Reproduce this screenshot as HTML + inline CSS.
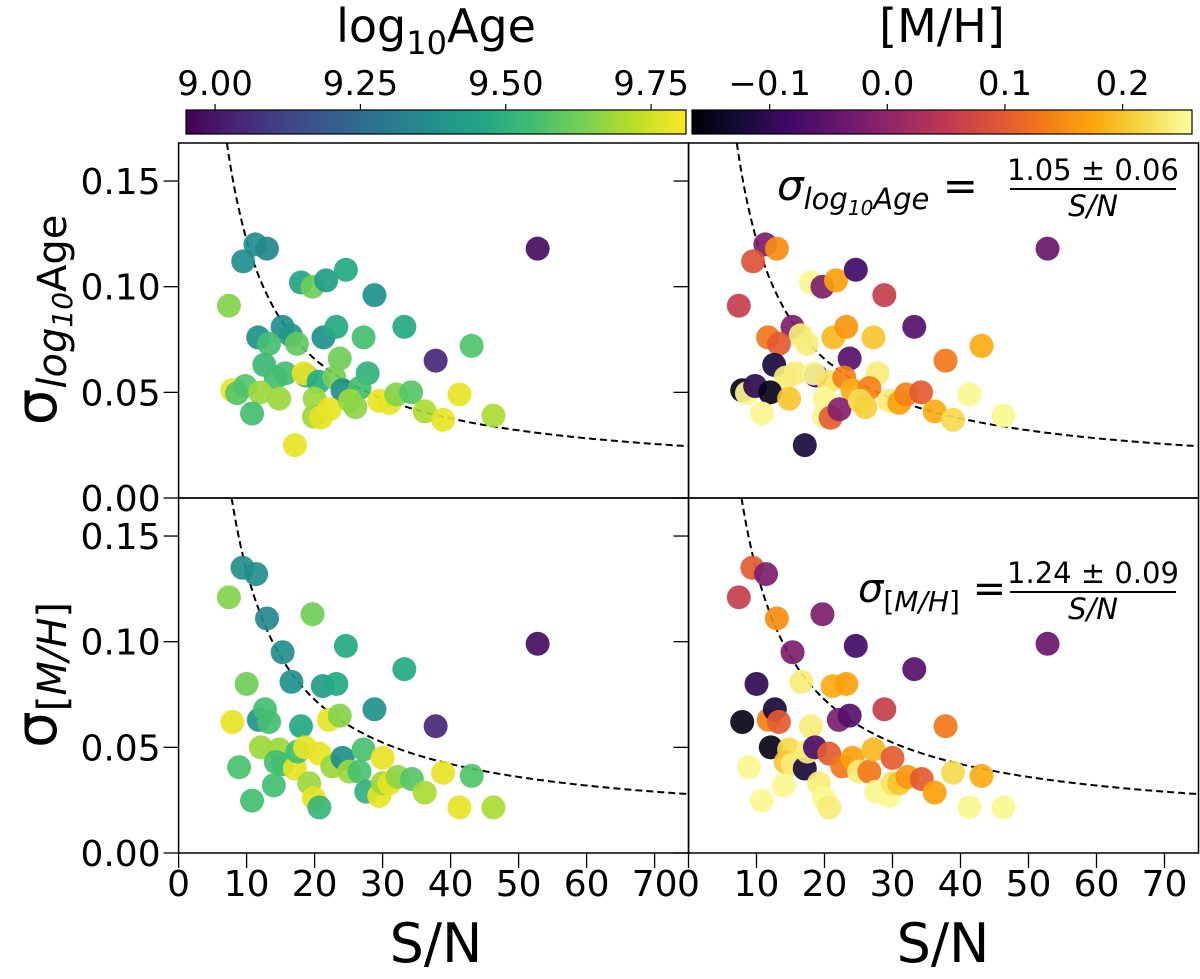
<!DOCTYPE html>
<html><head><meta charset="utf-8"><style>
body{margin:0;background:#fff;}
svg{display:block;font-family:"DejaVu Sans","Liberation Sans",sans-serif;}
</style></head><body>
<svg id="chart" width="1200" height="979" viewBox="0 0 1200 979">
<defs>
<linearGradient id="gViridis"></linearGradient>
<linearGradient id="gInferno"></linearGradient>
</defs>
<g id="layer"></g>
</svg>
<script>
// ---- data ----
const topSN  = [11.3,13.0,9.5,18.0,19.7,21.7,24.6,28.8,7.4,11.7,15.3,16.5,13.3,17.4,21.3,23.2,27.2,33.2,43.1,37.8,23.7,12.6,15.7,14.3,18.7,18.4,20.6,22.9,24.1,27.8,26.6,7.9,8.6,9.8,12.0,14.8,10.8,20.0,19.9,20.9,22.2,25.2,26.0,29.5,31.0,32.0,34.2,36.2,38.9,41.3,46.3,17.1,52.8];
const topSig = [0.120,0.118,0.112,0.102,0.100,0.103,0.108,0.096,0.091,0.076,0.081,0.077,0.073,0.073,0.076,0.081,0.076,0.081,0.072,0.065,0.066,0.063,0.059,0.057,0.058,0.059,0.055,0.057,0.051,0.059,0.052,0.051,0.0496,0.053,0.050,0.047,0.040,0.047,0.0385,0.038,0.042,0.046,0.043,0.046,0.045,0.049,0.050,0.041,0.037,0.049,0.039,0.025,0.118];
const topAge = [9.37,9.35,9.37,9.45,9.62,9.42,9.47,9.38,9.65,9.38,9.37,9.40,9.55,9.60,9.38,9.47,9.55,9.47,9.57,9.05,9.62,9.53,9.55,9.55,9.50,9.78,9.48,9.63,9.37,9.50,9.55,9.78,9.58,9.57,9.68,9.68,9.55,9.68,9.68,9.78,9.78,9.68,9.66,9.78,9.78,9.65,9.58,9.70,9.78,9.78,9.70,9.78,8.98];
const topMH  = [-0.02,0.15,0.09,0.25,-0.02,0.17,-0.08,0.06,0.06,0.13,-0.02,0.24,0.10,0.24,0.19,0.16,0.20,-0.06,0.18,0.13,-0.06,-0.12,0.24,0.24,-0.08,0.25,0.23,0.14,0.18,0.24,0.14,-0.15,0.25,-0.10,-0.15,0.20,0.25,0.25,0.25,0.10,-0.01,0.22,0.21,0.24,0.17,0.14,0.10,0.18,0.22,0.25,0.25,-0.12,-0.04];

const botSN  = [9.4,11.4,7.4,13.0,19.7,15.3,24.6,16.6,33.2,10.0,21.2,23.2,28.8,37.8,7.9,11.8,12.7,13.3,18.0,22.1,23.7,12.1,14.8,14.3,15.3,17.1,17.5,18.6,20.7,22.6,24.1,25.1,26.6,27.2,30.0,27.6,29.5,30.0,31.0,32.2,34.3,36.2,38.9,43.1,41.3,46.3,8.9,10.8,14.0,19.2,19.9,20.7,52.8];
const botSig = [0.135,0.132,0.121,0.111,0.113,0.095,0.098,0.081,0.087,0.080,0.079,0.080,0.068,0.060,0.062,0.063,0.068,0.062,0.060,0.063,0.065,0.050,0.049,0.043,0.042,0.040,0.048,0.050,0.047,0.041,0.045,0.0385,0.0385,0.049,0.045,0.029,0.027,0.033,0.033,0.036,0.035,0.0286,0.038,0.0365,0.0216,0.0216,0.0406,0.0248,0.032,0.033,0.026,0.0216,0.099];
const botAge = [9.37,9.37,9.65,9.35,9.62,9.37,9.47,9.38,9.47,9.62,9.42,9.47,9.38,9.05,9.78,9.38,9.55,9.55,9.47,9.78,9.65,9.68,9.68,9.55,9.55,9.78,9.55,9.78,9.78,9.68,9.37,9.68,9.56,9.56,9.78,9.50,9.78,9.68,9.78,9.66,9.58,9.70,9.78,9.57,9.78,9.70,9.56,9.55,9.55,9.68,9.78,9.52,8.98];
const botMH  = [0.10,-0.02,0.06,0.15,-0.02,-0.02,-0.08,0.24,-0.06,-0.10,0.18,0.17,0.06,0.13,-0.15,0.14,-0.12,0.10,0.24,-0.02,-0.06,-0.15,0.22,0.20,0.24,-0.12,0.24,-0.07,0.10,0.13,0.17,0.24,0.13,0.19,0.10,0.25,0.25,0.23,0.20,0.16,0.10,0.17,0.22,0.18,0.25,0.25,0.25,0.25,0.25,0.24,0.25,0.24,-0.04];

const xTicks = [0,10,20,30,40,50,60,70];
const yTicks = [0.00,0.05,0.10,0.15];
const yTickLabels = ["0.00","0.05","0.10","0.15"];
const ageTicks = [9.00,9.25,9.50,9.75];
const ageTickLabels = ["9.00","9.25","9.50","9.75"];
const mhTicks = [-0.1,0.0,0.1,0.2];
const mhTickLabels = ["\u22120.1","0.0","0.1","0.2"];
const fitTop = [1.126,0.0095];
const fitBot = [1.22,0.0116];

// ---- geometry ----
const NS="http://www.w3.org/2000/svg";
const L=document.getElementById('layer');
const PX=[178.6,688.5], PW=510, XMAX=75;
const PY=[143,498], PH=355, YMAX=0.168;
const AGE=[8.95,9.81], MH=[-0.166,0.259];
function xs(p,v){return PX[p]+v/XMAX*PW;}
function ys(r,v){return PY[r]+PH-v/YMAX*PH;}
function mk(tag,attrs,parent){const e=document.createElementNS(NS,tag);for(const k in attrs)e.setAttribute(k,attrs[k]);(parent||L).appendChild(e);return e;}

const VIR=["#440154","#482475","#414487","#355f8d","#2a788e","#21918c","#22a884","#44bf70","#7ad151","#bddf26","#fde725"];
const INF=["#000004","#160b39","#420a68","#6a176e","#932667","#bc3754","#dd513a","#f37819","#fca50a","#f6d746","#fcffa4"];
function hex(h){return [1,3,5].map(i=>parseInt(h.substr(i,2),16));}
function cmap(stops,t){t=Math.max(0,Math.min(1,t));const f=t*10,i=Math.min(9,Math.floor(f)),u=f-i;const a=hex(stops[i]),b=hex(stops[i+1]);return "rgb("+a.map((c,k)=>Math.round(c+(b[k]-c)*u)).join(",")+")";}
function fill(id,stops){const g=document.getElementById(id);stops.forEach((c,i)=>{mk('stop',{offset:(i*10)+'%','stop-color':c},g);});}
fill('gViridis',VIR);fill('gInferno',INF);

// ---- colorbars ----
function colorbar(x0,x1,grad,range,ticks,labels,title,tx,name){
  const g=mk('g',{});
  
  
  mk('rect',{x:x0,y:110,width:x1-x0,height:24,fill:'url(#'+grad+')',stroke:'#000','stroke-width':1.2},g);
  ticks.forEach((t,i)=>{const x=x0+(t-range[0])/(range[1]-range[0])*(x1-x0);
    mk('line',{x1:x,x2:x,y1:110,y2:104,stroke:'#000','stroke-width':1.2},g);
    const tl=mk('text',{x:x,y:95,'font-size':34,'text-anchor':'middle'},g);tl.textContent=labels[i];
    
    });
  const t=mk('text',{x:tx,y:42,'font-size':46,'text-anchor':'middle'},g);t.innerHTML=title;
  
  
}
colorbar(186,686,'gViridis',AGE,ageTicks,ageTickLabels,'log<tspan font-size="32" dy="12">10</tspan><tspan dy="-12">Age</tspan>',436,'age-colorbar');
colorbar(692,1192,'gInferno',MH,mhTicks,mhTickLabels,'[M/H]',942,'mh-colorbar');

// ---- panels ----
function panel(p,r,sn,sig,col,fit,name){
  const g=mk('g',{});
  
  
  let d="";const smin=fit[0]/(YMAX-fit[1]);
  for(let i=0;i<=200;i++){const s=smin+(XMAX-smin)*i/200;const v=fit[0]/s+fit[1];d+=(i?"L":"M")+xs(p,s).toFixed(1)+","+ys(r,v).toFixed(1);}
  const c=mk('path',{d:d,fill:'none',stroke:'#000','stroke-width':2,'stroke-dasharray':'7,4'},g);
  
  
  const clip=mk('g',{},g);
  sn.forEach((s,i)=>{const pt=mk('circle',{cx:xs(p,s),cy:ys(r,sig[i]),r:12,fill:col[i],opacity:0.92},clip);
    
    });
  mk('rect',{x:PX[p],y:PY[r],width:PW,height:PH,fill:'none',stroke:'#000','stroke-width':1.5},g);
  yTicks.forEach((t,i)=>{const y=ys(r,t);mk('line',{x1:PX[p],x2:PX[p]-15,y1:y,y2:y,stroke:'#000','stroke-width':1.3},g);
    if(p===0){const tl=mk('text',{x:PX[0]-18,y:y+13,'font-size':36,'text-anchor':'end'},g);tl.textContent=yTickLabels[i];
      
      }});
  if(r===1){xTicks.forEach(t=>{const x=xs(p,t);mk('line',{x1:x,x2:x,y1:PY[1]+PH,y2:PY[1]+PH+15,stroke:'#000','stroke-width':1.3},g);
    const tl=mk('text',{x:x,y:896,'font-size':36,'text-anchor':'middle'},g);tl.textContent=t;
    
    });}
}
panel(0,0,topSN,topSig,topAge.map(a=>cmap(VIR,(a-AGE[0])/(AGE[1]-AGE[0]))),fitTop,'panel-age-vs-age');
panel(1,0,topSN,topSig,topMH.map(a=>cmap(INF,(a-MH[0])/(MH[1]-MH[0]))),fitTop,'panel-age-vs-mh');
panel(0,1,botSN,botSig,botAge.map(a=>cmap(VIR,(a-AGE[0])/(AGE[1]-AGE[0]))),fitBot,'panel-mh-vs-age');
panel(1,1,botSN,botSig,botMH.map(a=>cmap(INF,(a-MH[0])/(MH[1]-MH[0]))),fitBot,'panel-mh-vs-mh');
</script>
<svg width="1200" height="979" style="position:absolute;left:0;top:0">
<text x="436" y="962" font-size="54" text-anchor="middle" font-family="DejaVu Sans,sans-serif">S/N</text>
<text x="943" y="962" font-size="54" text-anchor="middle" font-family="DejaVu Sans,sans-serif">S/N</text>
<text transform="translate(56,320) rotate(-90)" font-size="58" text-anchor="middle" font-family="DejaVu Sans,sans-serif">σ<tspan font-size="40" font-style="italic" dy="10">log</tspan><tspan font-size="28" font-style="italic" dy="6">10</tspan><tspan font-size="40" dy="-6">Age</tspan></text>
<text transform="translate(56,675) rotate(-90)" font-size="58" text-anchor="middle" font-family="DejaVu Sans,sans-serif">σ<tspan font-size="40" dy="10">[<tspan font-style="italic">M/H</tspan>]</tspan></text>
<g font-family="DejaVu Sans,sans-serif">
<text x="777" y="200" font-size="42" font-style="italic">σ<tspan font-size="29" dy="9">log</tspan><tspan font-size="20" dy="6">10</tspan><tspan font-size="29" dy="-6">Age</tspan><tspan dy="-9" font-style="normal"> = </tspan></text>
<text x="1093" y="180" font-size="29" text-anchor="middle">1.05 ± 0.06</text>
<line x1="1010" x2="1176" y1="189" y2="189" stroke="#000" stroke-width="2"/>
<text x="1093" y="216" font-size="29" font-style="italic" text-anchor="middle">S/N</text>
</g>
<g font-family="DejaVu Sans,sans-serif">
<text x="858" y="602" font-size="40" font-style="italic">σ<tspan font-size="28" dy="9" font-style="normal">[<tspan font-style="italic">M/H</tspan>]</tspan><tspan dy="-9" font-style="normal"> =</tspan></text>
<text x="1093" y="583" font-size="29" text-anchor="middle">1.24 ± 0.09</text>
<line x1="1010" x2="1176" y1="592" y2="592" stroke="#000" stroke-width="2"/>
<text x="1093" y="619" font-size="29" font-style="italic" text-anchor="middle">S/N</text>
</g>
</svg>
</body></html>
